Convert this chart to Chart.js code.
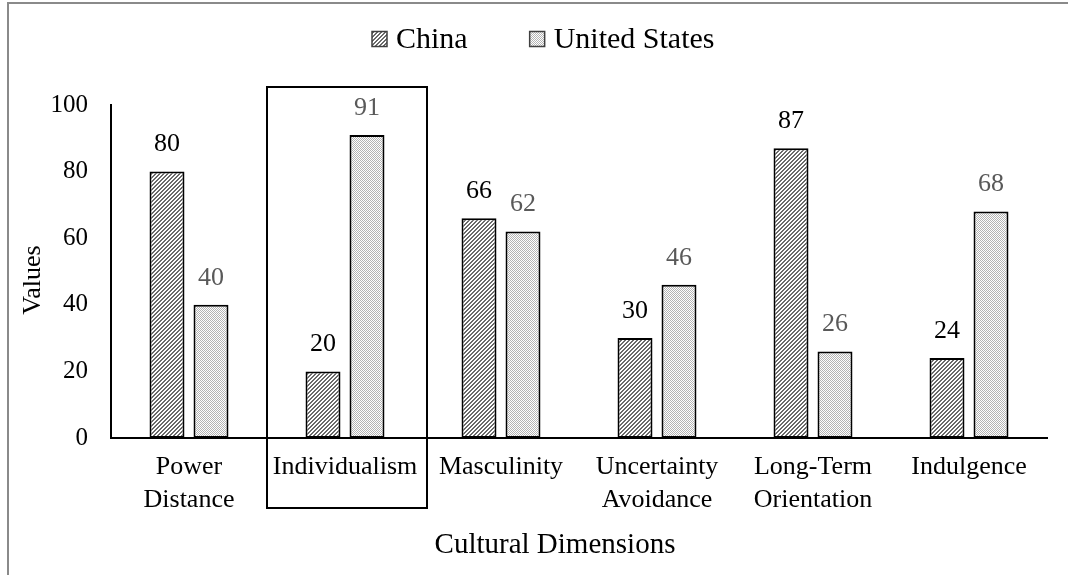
<!DOCTYPE html>
<html>
<head>
<meta charset="utf-8">
<script src="https://cdn.jsdelivr.net/npm/chart.js@4/dist/chart.umd.min.js"></script>
<style>
  html, body { margin: 0; padding: 0; background: #fff; }
  #wrap { width: 1068px; height: 575px; position: relative; }
</style>
</head>
<body>
<div id="wrap"><canvas id="c" width="1068" height="575"></canvas></div>
<script>
// Hofstede cultural dimension scores
const categories = [
  ['Power', 'Distance'],
  'Individualism',
  'Masculinity',
  ['Uncertainty', 'Avoidance'],
  ['Long-Term', 'Orientation'],
  'Indulgence'
];
const chinaValues = [80, 20, 66, 30, 87, 24];
const usValues = [40, 91, 62, 46, 26, 68];
const seriesNames = ['China', 'United States'];
const yTicks = [0, 20, 40, 60, 80, 100];
const highlightIndex = 1; // Individualism

const FONT = '"Liberation Serif", "Times New Roman", serif';

// Hatch fills
function makeStripePattern() {
  const t = document.createElement('canvas');
  t.width = 4; t.height = 4;
  const g = t.getContext('2d');
  g.fillStyle = '#ffffff';
  g.fillRect(0, 0, 4, 4);
  g.fillStyle = '#6a6a6a';
  for (let x = 0; x < 4; x++) {
    for (let y = 0; y < 4; y++) {
      if ((x + y) % 4 < 2) g.fillRect(x, y, 1, 1);
    }
  }
  return g.createPattern(t, 'repeat');
}
function makeDotPattern() {
  const t = document.createElement('canvas');
  t.width = 2; t.height = 2;
  const g = t.getContext('2d');
  g.fillStyle = '#ffffff';
  g.fillRect(0, 0, 2, 2);
  g.fillStyle = '#b4b4b4';
  g.fillRect(0, 0, 1, 1);
  g.fillRect(1, 1, 1, 1);
  return g.createPattern(t, 'repeat');
}

const ctx = document.getElementById('c').getContext('2d');
const chinaFill = makeStripePattern();
const usFill = makeDotPattern();
const labelColors = ['#000000', '#595959'];

// Value labels, axis titles, highlight frame, legend and page frame
const decorations = {
  id: 'decorations',
  afterDatasetsDraw(chart) {
    const c = chart.ctx;
    c.save();
    c.font = '26px ' + FONT;
    c.textAlign = 'center';
    c.textBaseline = 'middle';
    chart.data.datasets.forEach((ds, di) => {
      const meta = chart.getDatasetMeta(di);
      c.fillStyle = labelColors[di];
      meta.data.forEach((bar, i) => {
        c.fillText(String(ds.data[i]), bar.x, bar.y - 27);
      });
    });
    c.restore();
  },
  afterDraw(chart) {
    const c = chart.ctx;
    const xs = chart.scales.x;
    const area = chart.chartArea;

    // axis titles
    c.save();
    c.fillStyle = '#000';
    c.textAlign = 'center';
    c.textBaseline = 'middle';
    c.font = '29px ' + FONT;
    c.fillText('Cultural Dimensions', 555, 545);
    c.font = '26px ' + FONT;
    c.translate(33, 280);
    c.rotate(-Math.PI / 2);
    c.fillText('Values', 0, 0);
    c.restore();

    // frame around the highlighted dimension
    const cx = xs.getPixelForValue(highlightIndex);
    const half = (xs.getPixelForValue(1) - xs.getPixelForValue(0)) / 2;
    c.save();
    c.strokeStyle = '#000';
    c.lineWidth = 2;
    c.strokeRect(cx - half, area.top - 18, half * 2 + 4, area.bottom - area.top + 88);
    c.restore();

    // legend
    c.save();
    c.font = '30px ' + FONT;
    c.textBaseline = 'middle';
    c.textAlign = 'left';
    const box = 15, gapBoxText = 9, gapItems = 62, ly = 39;
    const widths = seriesNames.map(n => c.measureText(n).width);
    let x = 372;
    chart.data.datasets.forEach((ds, di) => {
      c.fillStyle = ds.backgroundColor;
      c.fillRect(x, ly - box / 2, box, box);
      c.strokeStyle = '#404040';
      c.lineWidth = 1.5;
      c.strokeRect(x, ly - box / 2, box, box);
      c.fillStyle = '#000';
      c.fillText(seriesNames[di], x + box + gapBoxText, ly + 1);
      x += box + gapBoxText + widths[di] + gapItems;
    });
    c.restore();

    // page frame (top and left edges)
    c.save();
    c.strokeStyle = '#8a8a8a';
    c.lineWidth = 2;
    c.beginPath();
    c.moveTo(8, 575);
    c.lineTo(8, 3);
    c.lineTo(1068, 3);
    c.stroke();
    c.restore();
  }
};

new Chart(ctx, {
  type: 'bar',
  data: {
    labels: categories,
    datasets: [
      {
        label: seriesNames[0],
        data: chinaValues,
        backgroundColor: chinaFill,
        borderColor: '#000',
        borderWidth: 2,
        borderSkipped: false,
        categoryPercentage: 0.564,
        barPercentage: 0.795
      },
      {
        label: seriesNames[1],
        data: usValues,
        backgroundColor: usFill,
        borderColor: '#000',
        borderWidth: 2,
        borderSkipped: false,
        categoryPercentage: 0.564,
        barPercentage: 0.795
      }
    ]
  },
  options: {
    responsive: false,
    animation: false,
    devicePixelRatio: 1,
    layout: { padding: { top: 105, right: 21, bottom: 0, left: 0 } },
    plugins: {
      legend: { display: false },
      tooltip: { enabled: false }
    },
    scales: {
      x: {
        grid: { display: false, drawTicks: false },
        border: { display: true, color: '#000', width: 2 },
        ticks: {
          color: '#000',
          font: { family: FONT, size: 26, lineHeight: 1.27 },
          padding: 13,
          maxRotation: 0,
          autoSkip: false
        },
        title: { display: false },
        afterFit(scale) { scale.height = 137; }
      },
      y: {
        min: 0,
        max: 100,
        afterBuildTicks(scale) { scale.ticks = yTicks.map(v => ({ value: v })); },
        grid: { display: false, drawTicks: false },
        border: { display: true, color: '#000', width: 2 },
        ticks: {
          color: '#000',
          font: { family: FONT, size: 25 },
          padding: 23
        },
        title: { display: false },
        afterFit(scale) { scale.width = 111; }
      }
    }
  },
  plugins: [decorations]
});
</script>
</body>
</html>
